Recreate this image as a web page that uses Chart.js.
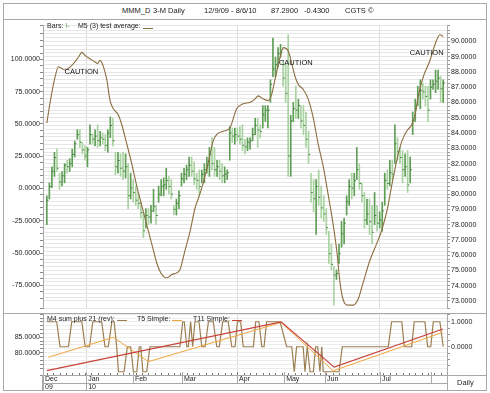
<!DOCTYPE html>
<html><head><meta charset="utf-8">
<script src="https://cdn.jsdelivr.net/npm/chart.js@4/dist/chart.umd.min.js"></script>
<style>
html,body{margin:0;padding:0;background:#fff;width:490px;height:393px;overflow:hidden;font-family:"Liberation Sans",Arial,sans-serif;}
.abs{position:absolute;}
.t{position:absolute;font-size:7.5px;color:#222;white-space:nowrap;line-height:1;}
.s{position:absolute;height:1px;}
</style></head><body>
<div class="abs" style="left:3px;top:3px;width:482px;height:386px;border:1px solid #a8a8a8;"></div>
<div class="abs" style="left:3px;top:19px;width:484px;height:1px;background:#a8a8a8;"></div>
<div class="abs" style="left:3px;top:313px;width:484px;height:1px;background:#a8a8a8;"></div>
<canvas id="c1" class="abs" style="left:0;top:20px;" width="490" height="293"></canvas>
<canvas id="c2" class="abs" style="left:0;top:314px;" width="490" height="76"></canvas>
<div class="t" style="left:122px;top:7px;">MMM_D</div>
<div class="t" style="left:153px;top:7px;">3-M Daily</div>
<div class="t" style="left:204px;top:7px;">12/9/09 - 8/6/10</div>
<div class="t" style="left:271px;top:7px;">87.2900</div>
<div class="t" style="left:304px;top:7px;">-0.4300</div>
<div class="t" style="left:345px;top:7px;">CGTS ©</div>
<div class="t" style="left:47px;top:22px;font-size:7px;">Bars: <span style="color:#5e9e55">I-</span></div>
<div class="t" style="left:78px;top:22px;font-size:7px;">M5 (3) test average:</div>
<div class="s" style="left:143px;top:28px;width:10px;background:#8c6d3f;"></div>
<div class="t" style="left:47px;top:315px;font-size:7px;">M4 sum plus 21 (rev):</div>
<div class="s" style="left:117px;top:320px;width:10px;background:#9b7e50;"></div>
<div class="t" style="left:137px;top:315px;font-size:7px;">T5 Simple:</div>
<div class="s" style="left:172px;top:320px;width:10px;background:#f0a53c;"></div>
<div class="t" style="left:193px;top:315px;font-size:7px;">T11 Simple:</div>
<div class="s" style="left:232px;top:320px;width:10px;background:#c8423a;"></div>
<div class="t" style="left:457px;top:379px;">Daily</div>
<script>
// ---------- DATA ----------
const highs = [79.89,80.74,81.79,82.74,82.95,81.37,81.48,82.00,82.22,82.32,
82.95,83.48,84.22,84.22,83.38,83.16,83.06,84.54,83.90,84.22,
84.54,84.11,84.01,83.90,84.22,85.06,84.96,82.74,82.74,82.64,
82.74,82.64,82.00,81.37,80.95,80.53,80.11,79.47,78.73,79.05,
79.05,79.26,80.32,79.26,80.53,80.95,81.06,81.69,81.16,80.95,
79.26,79.68,80.21,81.37,81.69,81.90,82.43,82.43,82.11,81.37,
81.58,81.58,82.00,82.43,83.06,83.69,83.06,82.22,82.22,82.00,
81.79,81.58,84.43,84.33,84.33,84.33,84.43,84.54,83.59,83.69,
83.69,84.33,84.96,84.96,84.54,85.80,85.80,85.80,87.49,90.23,
88.97,89.60,89.81,88.76,88.54,90.44,85.17,86.01,87.07,86.22,
85.80,85.80,85.38,84.11,81.37,80.95,80.95,81.58,80.53,79.89,
79.05,77.57,76.73,75.25,75.04,76.73,78.21,78.42,79.89,80.95,
81.37,81.37,83.06,82.00,80.74,80.11,79.68,79.68,79.26,80.11,
79.26,78.84,79.47,81.37,81.58,82.22,82.22,84.54,83.69,83.06,
82.85,82.64,82.85,82.43,85.38,86.22,87.07,87.49,87.28,87.07,
87.07,87.49,87.49,88.12,88.12,87.70,87.49];
const lows = [78.00,79.68,80.42,81.16,81.48,80.32,80.53,80.74,81.37,81.48,
81.79,82.43,83.59,83.06,82.64,82.22,81.79,83.27,83.27,83.16,
83.06,83.16,83.27,82.85,82.74,83.69,83.16,81.27,81.37,81.16,
80.95,81.06,79.05,79.68,79.47,79.26,79.05,78.42,77.15,77.79,
78.00,78.10,78.84,78.00,79.47,79.89,79.89,80.32,80.00,79.68,
78.63,78.63,79.05,80.53,80.74,80.95,81.16,81.16,80.63,80.32,
79.89,80.74,80.74,81.37,81.16,81.58,81.16,81.16,80.95,80.74,
80.74,80.95,82.22,83.38,83.27,83.48,83.27,82.85,82.64,82.85,
82.95,83.48,83.90,83.06,83.69,84.33,84.75,84.33,86.01,87.70,
87.70,88.33,88.97,87.07,86.01,81.16,81.16,84.75,84.96,84.96,
84.33,83.90,83.06,82.00,79.47,78.84,77.36,79.26,78.42,78.21,
77.36,75.46,75.04,72.72,74.41,75.46,76.52,76.73,78.63,79.26,
79.68,79.89,80.95,80.32,79.47,77.79,78.00,77.36,76.73,78.00,
77.57,77.79,77.57,79.26,80.32,80.53,80.95,82.00,82.22,82.00,
80.74,81.16,80.11,80.74,83.90,84.75,85.80,85.59,86.22,85.80,
84.75,86.22,86.86,86.65,86.86,86.01,86.01];
const closes = [79.6,80.5,81.5,82.4,81.7,80.8,81.2,81.9,81.8,82.0,
82.6,83.3,83.9,83.4,82.9,82.5,82.9,83.9,83.6,83.8,
83.5,83.7,83.6,83.2,84.0,84.5,83.5,81.8,82.2,81.7,
81.5,81.8,79.9,80.4,80.1,79.6,79.4,78.8,77.6,78.6,
78.5,78.9,79.2,78.6,80.0,80.5,80.6,80.9,80.5,80.0,
79.0,79.4,79.9,81.0,81.3,81.6,81.9,81.5,81.0,80.9,
80.5,81.3,81.6,81.9,82.6,82.0,81.6,81.8,81.5,81.2,
81.3,81.4,84.0,83.8,83.9,83.8,83.6,83.2,83.1,83.4,
83.5,83.9,84.5,84.2,84.1,85.2,85.5,85.5,87.2,88.2,
88.5,89.2,89.3,87.6,86.6,82.5,84.8,85.6,85.5,85.8,
84.8,84.5,83.6,82.6,80.1,79.7,80.5,79.8,79.1,78.7,
77.8,76.1,75.4,74.7,74.8,76.1,77.4,78.1,79.5,80.5,
80.4,80.9,81.6,80.7,79.9,78.3,78.7,78.2,77.5,78.6,
78.1,78.3,78.9,80.9,80.7,81.4,81.3,83.3,82.8,82.4,
81.6,81.8,80.6,81.6,84.8,85.6,86.5,86.8,86.7,86.4,
85.5,87.0,87.2,87.4,87.6,86.9,87.29];

const oscDays = [0,1.3,3.3,4.6,5.9,7.2,9.2,10.5,12.4,13.8,15.1,17.0,19.0,19.9,21.0,22.3,23.6,24.9,26.2,28.2,29.5,31.5,33.4,35.4,36.7,38.0,39.3,41.3,43.3,45.2,47.2,49.2,51.1,52.4,54.4,56.4,58.3,60.3,62.9,65.5,66.9,69.5,72.1,73.4,74.7,77.3,80.0,81.9,83.2,85.2,87.2,88.5,89.8,91.8,93.1,95.0,96.4,97.7,99.0,100.9,102.9,104.9,106.8,108.8,110.8,112.7,114.1,115.4,116.7,118.6,120.6,122.6,124.5,127.2,129.8,131.7,133.8,135.7,137.7,139.7,141.6,143.6,144.9,146.2,148.2,150.8,152.8,154.7,156.0];
const oscVals = [50.6,66.8,86.8,94.3,93.0,91.8,94.3,96.8,101.7,105.5,103.0,100.5,98.0,96.8,99.3,94.3,84.3,68.1,61.8,56.8,49.4,34.4,19.4,1.9,-8.1,-18.0,-28.0,-42.9,-57.9,-66.4,-69.2,-66.7,-65.4,-62.9,-47.9,-33.0,-15.5,-4.0,14.4,36.9,41.9,44.4,46.9,54.3,61.8,65.6,66.8,69.3,71.8,69.3,68.1,73.0,84.3,101.7,109.2,106.7,96.8,86.8,80.5,76.8,69.3,54.4,34.4,16.9,-5.5,-28.0,-48.0,-72.9,-86.6,-90.4,-90.4,-85.4,-72.9,-55.4,-42.9,-32.9,-18.0,1.9,21.5,36.5,44.4,49.4,56.8,71.8,86.8,99.2,111.7,119.2,117.9];

const stepDays = [0,3.9,5.2,8.5,9.8,13.8,15.1,16.8,18.1,21.6,22.9,24.2,25.6,26.5,27.5,28.2,30.4,31.7,33.0,34.1,35.4,36.4,37.0,37.8,39.3,40.6,52.4,53.5,54.1,55.1,55.7,56.6,57.4,58.3,59.9,61.0,62.3,63.6,65.5,66.9,67.9,69.2,71.4,72.8,74.1,75.0,76.3,77.3,81.3,82.2,83.5,84.6,85.5,86.5,91.8,94.4,96.4,97.4,98.3,100.9,101.6,102.5,103.6,104.9,105.8,106.6,107.5,108.2,108.8,115.0,116.3,134.4,135.7,139.7,140.7,143.6,144.6,148.8,149.9,151.1,152.1,154.7,156.0];
const stepVals = [1,1,0,0,1,1,0,0,1,1,0,0,1,1,0,-1,-1,0,0,-1,-1,0,0,-1,-1,0,0,1,1,0,0,1,0,1,1,0,0,1,1,0,0,1,1,0,0,1,1,0,0,1,1,0,0,1,1,0,0,-1,0,0,-1,0,-1,-1,0,0,-1,0,-1,-1,0,0,1,1,0,0,1,1,0,0,1,1,0];
const t5Days = [0.6,26.2,40.0,92.2,112.7,155.8];
const t5Vals = [78.5,85.0,77.1,89.8,74.1,86.6];
const t11Days = [0,92.2,113.1,155.9];
const t11Vals = [74.2,90.0,75.3,87.7];

const monthTickPos = [-1.5,15.5,33.9,53.2,74.9,93.4,109.5,131.1,151.2];
const monthLabels = ['Dec','Jan','Feb','Mar','Apr','May','Jun','Jul',''];
const yearLabels = ['09','10','','','','','','',''];
const quarterTicks = [15.5,74.9,131.1];
const cautionDays = [13.6,98.0,149.5];
const cautionLevels = [90.0,97.3,104.8];

// ---------- STYLE ----------
const FONT = {family:'"Liberation Sans", Arial, sans-serif', size:7};
const AX = '#a8a8a8', TXT = '#222';
const UP = '#5e9e55', DOWN = '#a8d2a0';
const near = (v, s) => Math.abs(v / s - Math.round(v / s)) < 1e-6;
const fixW = w => s => { s.width = w; s.paddingTop = 0; s.paddingBottom = 0; };

const cautionPlugin = {
  id: 'caution',
  afterDatasetsDraw(chart) {
    const {ctx, scales} = chart;
    ctx.save();
    ctx.font = '7.5px "Liberation Sans", Arial, sans-serif';
    ctx.fillStyle = '#111'; ctx.textAlign = 'center'; ctx.textBaseline = 'middle';
    cautionDays.forEach((d, k) => ctx.fillText('CAUTION', scales.x.getPixelForValue(d), scales.yL.getPixelForValue(cautionLevels[k])));
    ctx.restore();
  }
};

new Chart(document.getElementById('c1'), {
  type: 'bar',
  data: { datasets: [
    { type: 'line', data: oscDays.map((d, i) => ({x: d, y: oscVals[i]})), yAxisID: 'yL',
      borderColor: '#8c6d3f', borderWidth: 1.1, pointRadius: 0, cubicInterpolationMode: 'monotone', order: 0 },
    { type: 'scatter', data: closes.map((c, i) => ({x: i + 0.35, y: c})), yAxisID: 'yR',
      pointStyle: 'line', pointRadius: 0.8, borderWidth: 1, borderColor: '#3d7a36', pointBorderColor: '#3d7a36', order: 1 },
    { type: 'bar', data: highs.map((h, i) => ({x: i, y: [lows[i], h]})), yAxisID: 'yR',
      backgroundColor: c => (c.dataIndex === 0 || closes[c.dataIndex] >= closes[c.dataIndex - 1]) ? UP : DOWN,
      barThickness: 1, borderWidth: 0, grouped: false, order: 2 }
  ]},
  options: {
    responsive: false, animation: false, events: [],
    layout: {padding: 0},
    plugins: {legend: {display: false}, tooltip: {enabled: false}},
    scales: {
      x: { type: 'linear', min: -1.5, max: 157.5, offset: false,
        ticks: {display: false}, border: {display: false},
        grid: {offset: false, drawTicks: false, color: '#dcdcdc'},
        afterBuildTicks: s => { s.ticks = quarterTicks.map(v => ({value: v})); },
        afterFit: s => { s.height = 0; } },
      yL: { position: 'left', min: -92.6, max: 126.7,
        ticks: {stepSize: 5, autoSkip: false, padding: 0, color: TXT, font: FONT,
          callback: v => (near(v, 25) && v >= -75 && v <= 100) ? v.toFixed(4) : ''},
        grid: {drawOnChartArea: false, tickLength: 3, tickColor: '#888'},
        border: {color: AX}, afterFit: fixW(43) },
      yR: { position: 'right', min: 72.54, max: 91.08,
        ticks: {stepSize: 0.25, autoSkip: false, padding: 1, color: TXT, font: FONT,
          callback: v => (near(v, 1) && v >= 73 && v <= 90) ? v.toFixed(4) : ''},
        grid: {color: '#e6e6e6', tickLength: 3, tickColor: '#999'},
        border: {color: AX}, afterFit: fixW(43) }
    }
  },
  plugins: [cautionPlugin]
});

const dateAxisPlugin = {
  id: 'dateAxis',
  afterDraw(chart) {
    const {ctx, chartArea: a, scales: {x}} = chart;
    const H = chart.height, yb = Math.round(a.bottom) + 0.5, ym = yb + 8;
    ctx.save(); ctx.strokeStyle = AX; ctx.lineWidth = 1; ctx.beginPath();
    ctx.moveTo(a.left, ym); ctx.lineTo(a.right, ym);
    const lx = Math.round(a.left) - 0.5, rx = Math.round(a.right) + 0.5;
    ctx.moveTo(lx, a.bottom); ctx.lineTo(lx, H);
    ctx.moveTo(rx, a.bottom); ctx.lineTo(rx, H);
    ctx.moveTo(a.right, yb); ctx.lineTo(chart.width - 4, yb);
    monthTickPos.forEach((p, k) => {
      const px = Math.round(x.getPixelForValue(p)) + 0.5;
      ctx.moveTo(px, a.bottom - 3); ctx.lineTo(px, ym);
      if (yearLabels[k]) { ctx.moveTo(px, ym); ctx.lineTo(px, H); }
    });
    ctx.stroke();
    ctx.strokeStyle = '#777'; ctx.beginPath();
    for (let d = 0; d <= 156; d += 2.5) {
      const px = Math.round(x.getPixelForValue(d)) + 0.5;
      ctx.moveTo(px, a.bottom); ctx.lineTo(px, a.bottom - 2);
    }
    ctx.stroke();
    ctx.restore();
  }
};

new Chart(document.getElementById('c2'), {
  type: 'line',
  data: { datasets: [
    { data: t11Days.map((d, i) => ({x: d, y: t11Vals[i]})), yAxisID: 'yL',
      borderColor: '#c8423a', borderWidth: 1.2, pointRadius: 0, order: 0 },
    { data: t5Days.map((d, i) => ({x: d, y: t5Vals[i]})), yAxisID: 'yL',
      borderColor: '#f0a53c', borderWidth: 1, pointRadius: 0, order: 1 },
    { data: stepDays.map((d, i) => ({x: d, y: stepVals[i]})), yAxisID: 'yR',
      borderColor: '#9b7e50', borderWidth: 1.2, pointRadius: 0, order: 2 }
  ]},
  options: {
    responsive: false, animation: false, events: [],
    layout: {padding: 0},
    plugins: {legend: {display: false}, tooltip: {enabled: false}},
    scales: {
      x: { type: 'linear', min: -1.5, max: 157.5, offset: false,
        ticks: {align: 'start', labelOffset: 2, padding: 0, maxRotation: 0, autoSkip: false,
          color: TXT, font: {family: FONT.family, size: 7, lineHeight: '8px'},
          callback: (v, i) => [monthLabels[i], yearLabels[i]]},
        border: {color: AX},
        grid: {offset: false, drawTicks: false,
          color: c => (c.tick && quarterTicks.includes(c.tick.value)) ? '#dcdcdc' : 'rgba(0,0,0,0)'},
        afterBuildTicks: s => { s.ticks = monthTickPos.map(v => ({value: v})); },
        afterFit: s => { s.height = 15; s.paddingLeft = 0; s.paddingRight = 0; } },
      yL: { position: 'left', min: 72.76, max: 92.56,
        ticks: {stepSize: 1.25, autoSkip: false, padding: 0, color: TXT, font: FONT,
          callback: v => (v === 80 || v === 85) ? v.toFixed(4) : ''},
        grid: {color: '#ececec', tickLength: 3, tickColor: '#888'},
        border: {color: AX}, afterFit: fixW(43) },
      yR: { position: 'right', min: -1.13, max: 1.31,
        ticks: {stepSize: 0.25, autoSkip: false, padding: 1, color: TXT, font: FONT,
          callback: v => (near(v, 1) && v >= 0 && v <= 1) ? v.toFixed(4) : ''},
        grid: {drawOnChartArea: false, tickLength: 3, tickColor: '#999'},
        border: {color: AX}, afterFit: fixW(43) }
    }
  },
  plugins: [dateAxisPlugin]
});
</script>
</body></html>
